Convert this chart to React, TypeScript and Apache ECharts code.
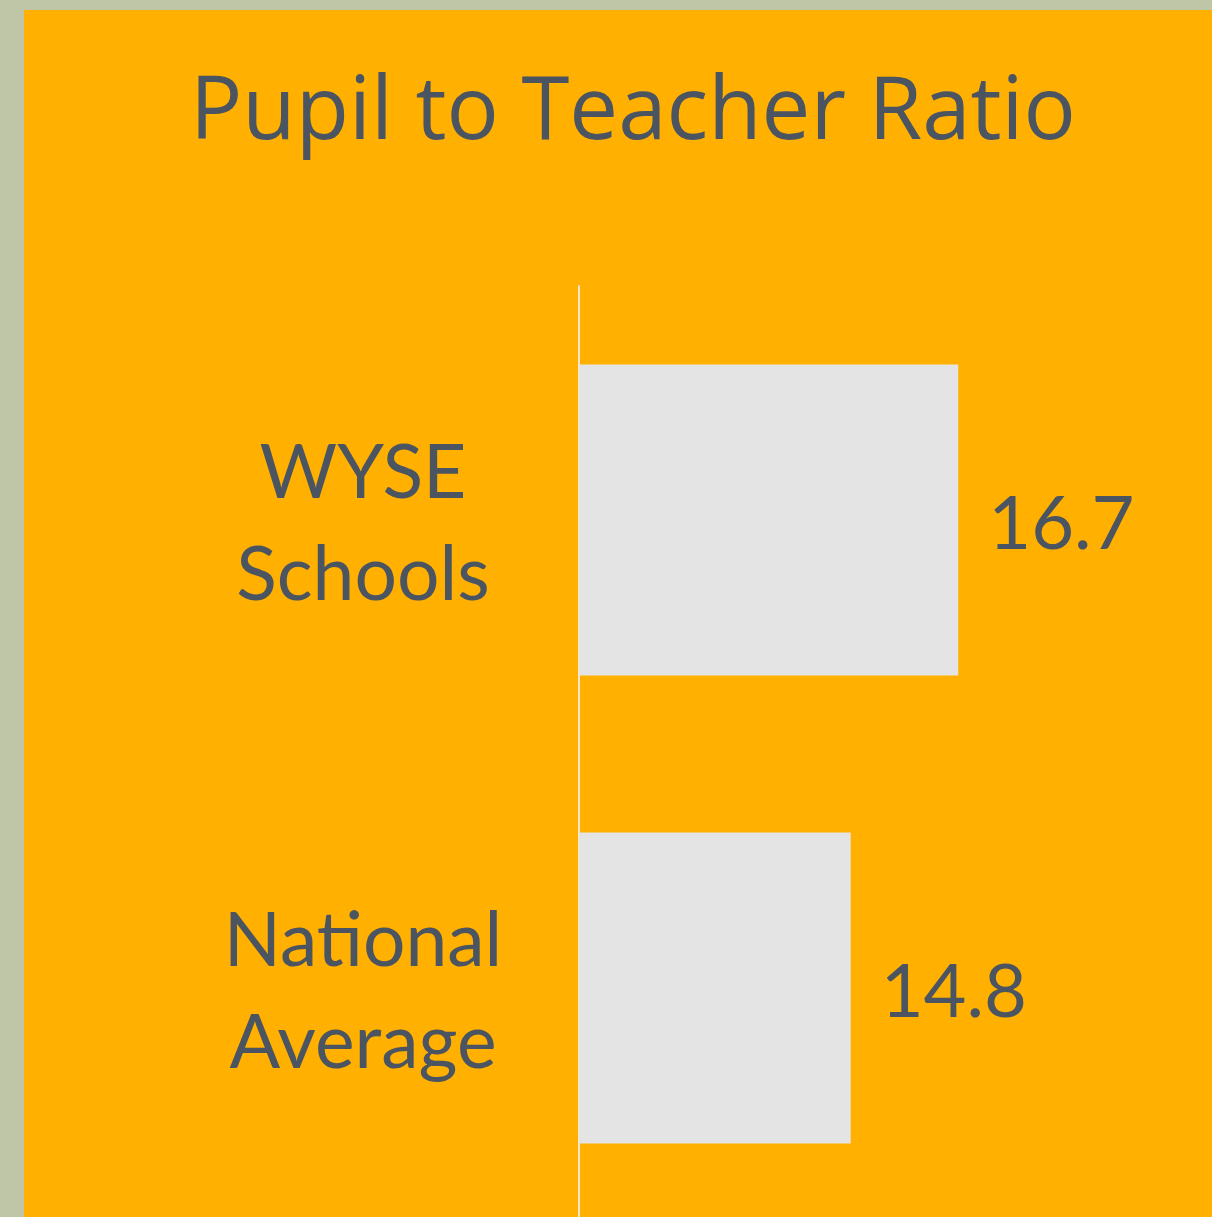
import React, { useEffect, useRef } from "react";
import * as echarts from "echarts";

const categories = ["WYSE Schools", "National Average"];
const values = [16.7, 14.8];
const titleText = "Pupil to Teacher Ratio";

const ORANGE = "#FFB000";
const BORDER = "#BFC5A7";
const TEXT = "#4B5461";
const BAR = "#E4E4E4";
const FONT = "Lato";

export default function App() {
  const ref = useRef<HTMLDivElement>(null);
  useEffect(() => {
    const chart = echarts.init(ref.current!, null, { renderer: "svg" });
    chart.setOption({
      animation: false,
      backgroundColor: ORANGE,
      title: {
        text: titleText,
        left: 166,
        top: 51,
        padding: 0,
        textStyle: { fontFamily: "Open Sans", fontSize: 87, fontWeight: "normal", color: TEXT },
      },
      grid: { left: 555, right: 67, top: 276, bottom: 0, containLabel: false },
      xAxis: {
        type: "value",
        min: 10,
        max: 20,
        show: false,
      },
      yAxis: {
        type: "category",
        inverse: true,
        data: categories,
        axisLine: { show: true, lineStyle: { color: "#F6E7C8", width: 2 } },
        axisTick: { show: false },
        splitLine: { show: false },
        axisLabel: {
          formatter: (v: string) => v.replace(" ", "\n"),
          align: "center",
          margin: 216,
          fontFamily: FONT,
          fontSize: 75,
          lineHeight: 102,
          color: TEXT,
        },
      },
      series: [
        {
          type: "bar",
          data: values,
          barCategoryGap: "33.5%",
          itemStyle: { color: BAR },
          label: {
            show: true,
            position: "right",
            distance: 30,
            fontFamily: FONT,
            fontSize: 74,
            color: TEXT,
          },
        },
      ],
    });
    return () => chart.dispose();
  }, []);
  return (
    <div
      style={{
        position: "fixed",
        left: 0,
        top: 0,
        width: 1212,
        height: 1217,
        overflow: "hidden",
        background: BORDER,
      }}
    >
      <div
        ref={ref}
        style={{ position: "absolute", left: 24, top: 10, width: 1188, height: 1212 }}
      />
    </div>
  );
}
